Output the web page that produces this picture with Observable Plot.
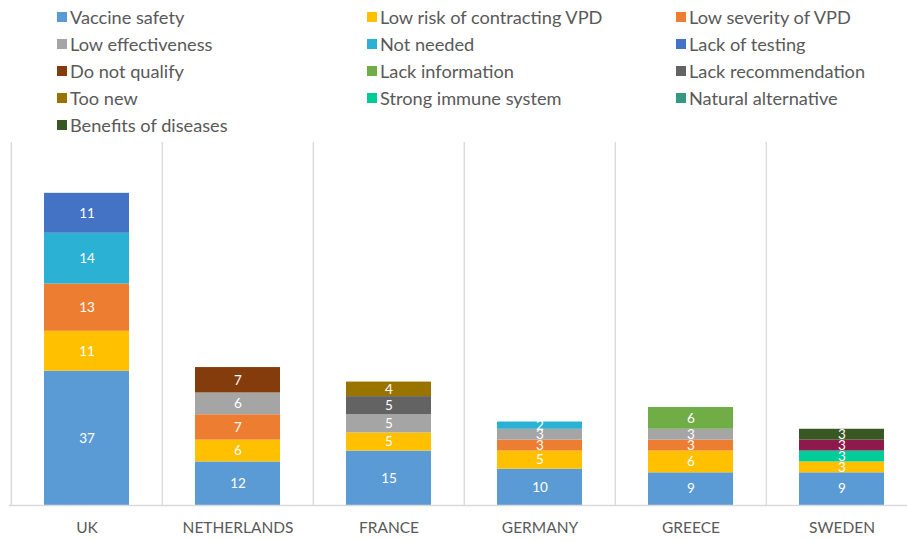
<!DOCTYPE html>
<html>
<head>
<meta charset="utf-8">
<script src="https://cdn.jsdelivr.net/npm/d3@7"></script>
<script src="https://cdn.jsdelivr.net/npm/@observablehq/plot@0.6"></script>
<style>
  html, body { margin: 0; padding: 0; background: #fff; overflow: hidden; }
  #legend {
    position: relative; height: 140px; width: 907px;
    font-family: Lato, "Open Sans", sans-serif; font-size: 18.2px; color: #595959;
  }
  .item { position: absolute; display: flex; align-items: center; white-space: nowrap; line-height: 20px; }
  .sw { width: 10px; height: 10px; margin-right: 3px; flex: none; }
  #chart svg { display: block; max-width: none !important; }
</style>
</head>
<body>
<div id="legend"></div>
<div id="chart"></div>
<script>
const countries = ["UK", "NETHERLANDS", "FRANCE", "GERMANY", "GREECE", "SWEDEN"];
const series = [
  "Vaccine safety", "Low risk of contracting VPD", "Low severity of VPD",
  "Low effectiveness", "Not needed", "Lack of testing",
  "Do not qualify", "Lack information", "Lack recommendation",
  "Too new", "Strong immune system", "Natural alternative",
  "Benefits of diseases"
];
// counts[seriesIndex][countryIndex]
const counts = [
  [37, 12, 15, 10, 9, 9],  // Vaccine safety
  [11, 6, 5, 5, 6, 3],     // Low risk of contracting VPD
  [13, 7, 0, 3, 3, 0],     // Low severity of VPD
  [0, 6, 5, 3, 3, 0],      // Low effectiveness
  [14, 0, 0, 2, 0, 0],     // Not needed
  [11, 0, 0, 0, 0, 0],     // Lack of testing
  [0, 7, 0, 0, 0, 0],      // Do not qualify
  [0, 0, 0, 0, 6, 0],      // Lack information
  [0, 0, 5, 0, 0, 0],      // Lack recommendation
  [0, 0, 4, 0, 0, 0],      // Too new
  [0, 0, 0, 0, 0, 3],      // Strong immune system
  [0, 0, 0, 0, 0, 3],      // Natural alternative
  [0, 0, 0, 0, 0, 3]       // Benefits of diseases
];
const legendColors = ["#5b9bd5", "#ffc000", "#ed7d31", "#a5a5a5", "#2ab1d3", "#4472c4",
  "#843c0c", "#70ad47", "#636363", "#997300", "#00cc99", "#35997f", "#385723"];
const barColors = ["#5b9bd5", "#ffc000", "#ed7d31", "#a5a5a5", "#2ab1d3", "#4472c4",
  "#843c0c", "#70ad47", "#636363", "#997300", "#00cc99", "#8e1a4b", "#385723"];

// legend
const legend = document.getElementById("legend");
const colX = [57, 367, 676];
series.forEach((s, i) => {
  const el = document.createElement("div");
  el.className = "item";
  el.style.left = colX[i % 3] + "px";
  el.style.top = (7 + Math.floor(i / 3) * 27) + "px";
  el.innerHTML = `<span class="sw" style="background:${legendColors[i]}"></span><span>${s}</span>`;
  legend.appendChild(el);
});

const data = [];
series.forEach((s, si) => {
  countries.forEach((c, ci) => {
    data.push({country: c, series: s, value: counts[si][ci]});
  });
});
const nonzero = data.filter(d => d.value > 0);

const W = 918, ML = 9, MR = 0;
const step = (W - ML - MR) / countries.length;

const chart = Plot.plot({
  width: W,
  height: 401,
  marginTop: 2,
  marginBottom: 36,
  marginLeft: ML,
  marginRight: MR,
  style: {fontFamily: "Lato, 'Open Sans', sans-serif", fontSize: "15.5px", color: "#595959", background: "#fff", maxWidth: "none"},
  x: {domain: countries, paddingInner: 0.44, paddingOuter: 0.22, label: null, tickSize: 0, tickPadding: 16},
  y: {domain: [0, 100], axis: null},
  color: {type: "ordinal", domain: series, range: barColors},
  marks: [
    Plot.ruleX(countries, {x: d => d, dx: -step / 2, stroke: "#d9d9d9", strokeWidth: 1.3}),
    Plot.barY(nonzero, Plot.stackY({x: "country", y: "value", z: "series", fill: "series", order: null})),
    Plot.text(nonzero, Plot.stackY({x: "country", y: "value", z: "series", order: null, text: d => String(d.value), fill: "white", fontSize: 13.5})),
    Plot.ruleY([0], {stroke: "#d9d9d9", strokeWidth: 1.3})
  ]
});
document.getElementById("chart").appendChild(chart);
</script>
</body>
</html>
